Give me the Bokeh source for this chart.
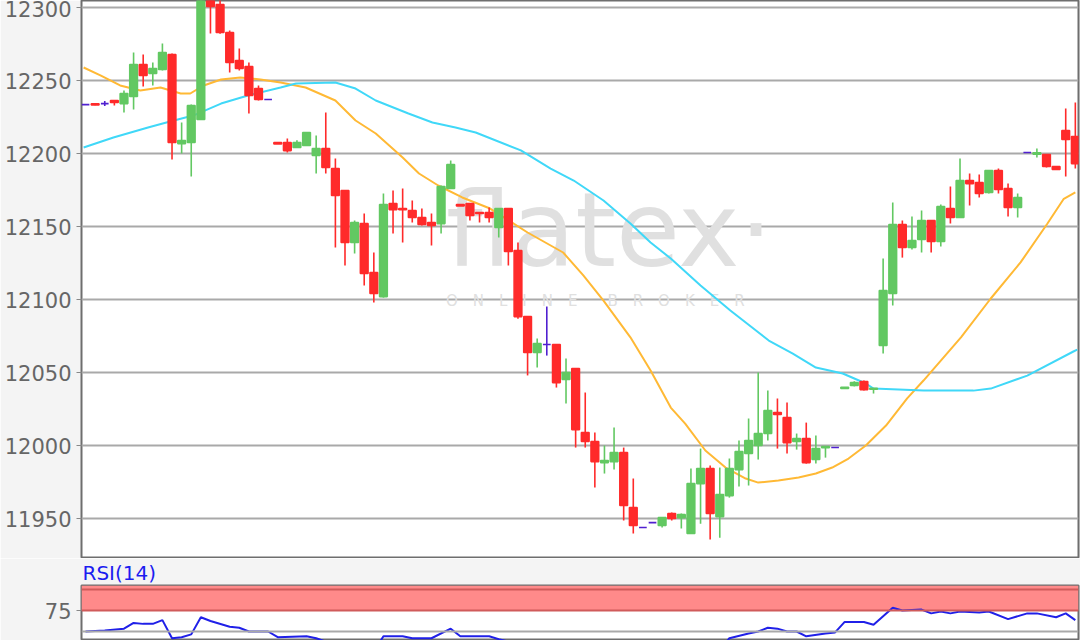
from bokeh.plotting import figure
from bokeh.models import Range1d, FixedTicker, BoxAnnotation, Span, ColumnDataSource, Label
from bokeh.layouts import column
from bokeh.embed import file_html
from bokeh.resources import INLINE

# ---- candle data ----
opens = [12233.5, 12234.0, 12234.2, 12236.3, 12234.2, 12239.0, 12261.0, 12254.8, 12257.5, 12267.8,
         12206.8, 12207.5, 12223.3, 12312.0, 12302.0, 12282.9, 12263.7, 12259.6, 12244.5, 12237.0,
         12207.5, 12207.5, 12204.1, 12205.5, 12198.6, 12203.4, 12189.7, 12174.6, 12139.0, 12152.0,
         12118.5, 12102.0, 12165.7, 12162.3, 12160.9, 12156.2, 12152.7, 12152.0, 12176.0, 12165.0,
         12165.7, 12159.6, 12159.6, 12149.3, 12162.3, 12133.5, 12088.3, 12063.7, 12069.2, 12069.2,
         12045.2, 12052.7, 12008.9, 12002.7, 11988.3, 11989.0, 11995.2, 11957.5, 11943.8, 11947.2,
         11945.2, 11953.4, 11950.6, 11939.7, 11973.9, 11984.2, 11951.3, 11965.7, 11983.5, 11994.5,
         12000.0, 12008.2, 12022.6, 12019.2, 12002.7, 12004.8, 11990.4, 11998.5, 11998.6, 12039.0,
         12041.1, 12043.8, 12038.6, 12068.5, 12104.1, 12151.4, 12135.6, 12141.1, 12154.1, 12139.7,
         12162.3, 12156.2, 12181.5, 12180.1, 12173.3, 12188.3, 12176.0, 12163.0, 12200.7, 12199.6,
         12199.3, 12191.1, 12215.8, 12211.6]
highs = [12233.5, 12234.3, 12236.0, 12236.3, 12243.1, 12269.2, 12267.8, 12262.3, 12275.3, 12268.5,
         12221.2, 12233.6, 12318.0, 12315.0, 12305.5, 12284.2, 12271.9, 12262.3, 12246.6, 12237.0,
         12207.5, 12210.3, 12209.0, 12214.4, 12212.3, 12228.1, 12196.6, 12174.6, 12154.1, 12158.9,
         12132.2, 12172.6, 12174.6, 12176.0, 12167.8, 12162.3, 12158.9, 12178.1, 12195.2, 12165.0,
         12165.7, 12159.6, 12163.0, 12162.3, 12162.3, 12139.0, 12088.3, 12073.3, 12095.2, 12069.2,
         12059.6, 12052.7, 12036.3, 12008.9, 12000.0, 12012.3, 11998.6, 11977.4, 11943.8, 11947.2,
         11950.6, 11954.1, 11953.4, 11984.2, 11997.9, 11986.3, 11984.9, 11991.1, 12003.4, 12018.5,
         12050.0, 12037.6, 12032.2, 12029.4, 12008.2, 12015.7, 12006.8, 11999.3, 11998.6, 12039.9,
         12044.0, 12044.5, 12039.2, 12128.1, 12166.4, 12154.1, 12156.8, 12160.9, 12154.1, 12165.0,
         12177.4, 12196.6, 12186.3, 12185.6, 12188.3, 12189.7, 12179.4, 12172.6, 12200.7, 12203.4,
         12199.3, 12191.5, 12230.8, 12234.9]
lows = [12233.5, 12233.0, 12232.6, 12232.9, 12228.1, 12230.1, 12245.9, 12246.6, 12256.9, 12195.9,
        12200.0, 12184.2, 12223.0, 12282.2, 12282.0, 12255.5, 12256.9, 12227.4, 12236.3, 12237.0,
        12206.5, 12200.7, 12204.1, 12205.5, 12186.3, 12186.3, 12135.6, 12123.3, 12131.5, 12109.6,
        12097.9, 12101.3, 12145.2, 12139.0, 12152.7, 12150.7, 12137.0, 12145.2, 12176.0, 12164.0,
        12154.1, 12152.7, 12152.7, 12142.4, 12123.3, 12086.9, 12048.0, 12053.4, 12061.6, 12039.7,
        12028.7, 11998.6, 11998.6, 11971.2, 11980.8, 11983.5, 11948.6, 11939.7, 11943.8, 11947.2,
        11943.8, 11948.6, 11943.1, 11939.7, 11946.5, 11935.6, 11936.9, 11964.3, 11971.9, 11972.6,
        11990.4, 12003.4, 11997.9, 11994.5, 11997.2, 11987.6, 11987.6, 11991.7, 11998.6, 12039.0,
        12040.5, 12037.6, 12035.6, 12063.0, 12095.9, 12128.7, 12134.2, 12132.2, 12132.2, 12136.3,
        12152.0, 12156.2, 12164.4, 12169.9, 12172.6, 12172.6, 12156.8, 12156.2, 12200.7, 12197.2,
        12190.4, 12189.0, 12184.2, 12189.7]
closes = [12233.5, 12233.3, 12234.2, 12235.0, 12241.1, 12261.0, 12253.4, 12258.2, 12269.2, 12207.5,
          12208.9, 12232.9, 12312.0, 12300.7, 12282.9, 12262.3, 12258.2, 12239.7, 12237.0, 12237.0,
          12206.5, 12202.0, 12207.5, 12214.4, 12203.4, 12190.4, 12171.2, 12139.0, 12152.7, 12117.8,
          12104.1, 12165.0, 12161.6, 12161.6, 12156.2, 12151.4, 12150.7, 12177.4, 12192.4, 12164.0,
          12157.5, 12158.9, 12156.2, 12162.3, 12132.9, 12088.3, 12063.7, 12069.8, 12069.2, 12043.1,
          12050.0, 12010.9, 12002.7, 11989.0, 11989.7, 11995.2, 11958.9, 11945.2, 11943.8, 11947.2,
          11950.6, 11950.0, 11952.7, 11973.9, 11984.2, 11953.4, 11966.4, 11984.2, 11995.9, 12003.4,
          12008.2, 12024.0, 12021.2, 12002.0, 12004.8, 11988.3, 11997.9, 11999.3, 11998.6, 12039.9,
          12043.1, 12038.3, 12039.2, 12106.2, 12151.4, 12135.6, 12140.4, 12154.1, 12139.7, 12163.7,
          12156.2, 12181.5, 12179.4, 12172.6, 12188.3, 12175.3, 12163.0, 12169.9, 12200.7, 12200.5,
          12191.1, 12189.0, 12209.6, 12193.1]

# moving averages (index position, value)
ma_fast_x = [-0.2, 1.6, 3.6, 5.7, 7.8, 9.9, 10.9, 12.3, 14.1, 16.1, 18.2, 20.3, 22.9, 26.0, 28.1,
             30.2, 33.0, 34.7, 36.7, 39.2, 42.1, 46.0, 49.7, 51.8, 53.9, 56.7, 58.8, 60.9, 62.4,
             64.5, 66.6, 68.7, 70.0, 72.1, 74.2, 76.0, 77.7, 79.4, 81.2, 83.3, 85.5, 87.2, 91.1,
             94.2, 97.3, 100.1, 101.8, 103.0]
ma_fast_y = [12258.9, 12253.4, 12246.6, 12243.1, 12245.2, 12241.1, 12241.1, 12246.6, 12250.7, 12252.1,
             12250.7, 12248.6, 12245.2, 12236.3, 12222.6, 12213.7, 12197.3, 12186.3, 12178.1, 12169.9,
             12162.3, 12145.9, 12132.2, 12116.5, 12099.3, 12074.1, 12051.4, 12026.0, 12015.0, 11996.6,
             11984.9, 11977.4, 11974.6, 11976.0, 11978.1, 11980.8, 11984.9, 11991.1, 12000.0, 12013.7,
             12032.3, 12044.5, 12074.1, 12100.7, 12125.4, 12152.1, 12169.0, 12173.3]
ma_slow_x = [-0.2, 2.9, 6.5, 8.8, 11.2, 14.1, 16.9, 20.3, 21.9, 26.0, 28.1, 30.2, 33.6, 36.1, 38.5,
             40.6, 45.3, 48.4, 50.8, 53.9, 56.7, 58.8, 60.9, 64.0, 67.1, 71.1, 73.6, 76.0, 78.8,
             81.2, 82.0, 87.2, 92.4, 94.2, 98.0, 102.8, 103.2]
ma_slow_y = [12204.1, 12211.0, 12217.8, 12221.9, 12226.0, 12234.2, 12239.7, 12245.2, 12247.9, 12248.6,
             12244.5, 12236.3, 12227.4, 12221.2, 12217.8, 12214.4, 12202.1, 12189.7, 12181.5, 12167.8,
             12152.1, 12139.0, 12128.1, 12109.6, 12092.5, 12071.9, 12063.0, 12053.4, 12049.3, 12042.5,
             12039.0, 12037.6, 12037.6, 12039.0, 12047.9, 12064.4, 12065.7]

# RSI(14)
rsi_x = [0, 2, 4, 5, 6, 7, 8, 9, 10, 11, 12, 13, 15, 16, 17, 19, 20, 23, 24, 25, 26, 27, 28, 29,
         30, 31, 33, 34, 36, 38, 39, 42, 43, 44, 45, 46, 47, 48, 49, 50, 51, 52, 53, 54, 55, 56,
         57, 58, 59, 60, 61, 62, 63, 64, 65, 66, 67, 69, 70, 71, 72, 73, 74, 75, 77, 78, 79, 81,
         82, 84, 85, 87, 88, 89, 90, 91, 93, 94, 96, 98, 99, 101, 102, 103]
rsi_y = [50.0, 51.1, 53.4, 60.2, 59.1, 59.1, 63.6, 42.0, 43.2, 46.6, 67.0, 62.5, 55.7, 54.5, 50.0,
         50.0, 43.2, 44.3, 42.0, 38.0, 34.0, 30.0, 27.0, 30.0, 26.0, 44.3, 44.3, 42.0, 42.0, 53.4,
         44.3, 44.3, 40.9, 38.0, 33.0, 27.0, 24.0, 26.0, 26.0, 22.0, 25.0, 20.0, 20.0, 18.0, 19.0,
         21.0, 17.0, 15.0, 15.0, 16.0, 18.0, 18.0, 19.0, 28.0, 32.0, 28.0, 42.0, 47.7, 50.0, 54.5,
         53.4, 50.0, 50.0, 44.3, 47.7, 48.9, 61.4, 61.4, 58.0, 78.4, 75.0, 76.1, 71.6, 73.9, 71.6,
         73.9, 72.7, 73.9, 64.8, 71.6, 71.6, 67.0, 71.6, 63.6]

price_ticks = [11950, 12000, 12050, 12100, 12150, 12200, 12250, 12300]
rsi_ticks = [25, 75]

UP, DOWN, FLAT = "#62c862", "#ff2a2a", "#5020d0"
BG = "#f4f4f4"
FONT = "DejaVu Sans"

idx = list(range(len(opens)))
colors = [UP if c > o else (DOWN if c < o else FLAT) for o, c in zip(opens, closes)]
src = ColumnDataSource(dict(
    x=idx, high=highs, low=lows,
    top=[max(o, c) for o, c in zip(opens, closes)],
    bottom=[min(o, c) for o, c in zip(opens, closes)],
    color=colors))

xr = Range1d(-0.42, 103.33)


def style_yaxis(fig, ticks):
    fig.yaxis.ticker = FixedTicker(ticks=ticks)
    fig.yaxis.axis_line_color = None
    fig.yaxis.major_tick_line_color = "#888888"
    fig.yaxis.major_tick_out = 5
    fig.yaxis.major_tick_in = 0
    fig.yaxis.minor_tick_line_color = None
    fig.yaxis.major_label_text_font = FONT
    fig.yaxis.major_label_text_font_size = "21px"
    fig.yaxis.major_label_text_color = "#666666"
    fig.yaxis.major_label_standoff = 5


p = figure(width=1080, height=558, x_range=xr, y_range=Range1d(11923.3, 12304.8),
           x_axis_location=None, output_backend="svg", toolbar_location=None,
           min_border_left=81, min_border_right=2, min_border_top=0, min_border_bottom=1,
           background_fill_color="white", border_fill_color=BG,
           outline_line_color="#6e6e6e", outline_line_width=2)
p.xgrid.visible = False
p.ygrid.grid_line_color = "#a9a9a9"
p.ygrid.grid_line_width = 2
style_yaxis(p, price_ticks)

# watermark
p.add_layout(Label(x=37.5, y=12147.3, text="flatex\u00b7", text_font=FONT, text_font_size="104px",
                   text_color="#e0e0e0", text_baseline="alphabetic", level="underlay"))
p.add_layout(Label(x=37.5, y=12099.3,
                   text="\u2003".join(list("ONLINE")) + "\u2003\u2003" + "\u2003".join(list("BROKER")),
                   text_font=FONT, text_font_size="15px", text_color="#e0e0e0",
                   text_baseline="alphabetic", level="underlay"))

p.line(ma_fast_x, ma_fast_y, line_color="#ffb935", line_width=2)
p.line(ma_slow_x, ma_slow_y, line_color="#40d8f8", line_width=2)

p.segment(x0="x", y0="low", x1="x", y1="high", line_color="color", line_width=1.6, source=src)
p.vbar(x="x", width=0.8, top="top", bottom="bottom", fill_color="color", line_color="color",
       line_width=1.6, source=src)

# RSI panel
r = figure(width=1080, height=82, x_range=xr, y_range=Range1d(39.3, 104.8),
           x_axis_location=None, output_backend="svg", toolbar_location=None,
           min_border_left=81, min_border_right=2, min_border_top=27, min_border_bottom=0,
           background_fill_color="white", border_fill_color=BG,
           outline_line_color="#6e6e6e", outline_line_width=2, title="RSI(14)")
r.title.text_color = "#1c1cf0"
r.title.text_font = FONT
r.title.text_font_size = "20px"
r.title.text_font_style = "normal"
r.title.standoff = 1
r.title.offset = 1
r.xgrid.visible = False
r.ygrid.visible = False
style_yaxis(r, rsi_ticks)

r.add_layout(BoxAnnotation(bottom=75, fill_color="#ff8a8a", fill_alpha=1.0, line_color=None,
                           level="underlay"))
r.add_layout(Span(location=100, dimension="width", line_color="#d05a5a", line_width=2))
r.add_layout(Span(location=75, dimension="width", line_color="#d05a5a", line_width=2))
r.add_layout(Span(location=50, dimension="width", line_color="#a9a9a9", line_width=2))
r.line(rsi_x, rsi_y, line_color="#2020e8", line_width=2)

layout = column(p, r, spacing=0)
open("out.html", "w").write(file_html(layout, INLINE))
